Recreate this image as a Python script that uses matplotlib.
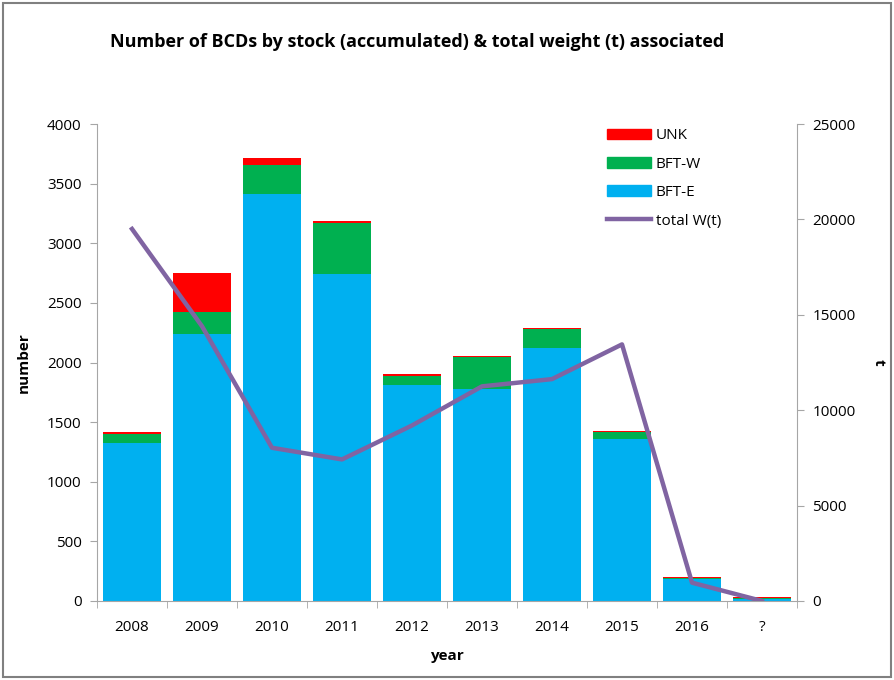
import matplotlib.pyplot as plt
from matplotlib.patches import Patch
from matplotlib.lines import Line2D
import numpy as np

plt.rcParams['font.family'] = ['Open Sans', 'DejaVu Sans']

years = ['2008', '2009', '2010', '2011', '2012', '2013', '2014', '2015', '2016', '?']
bft_e = [1325, 2240, 3417, 2741, 1810, 1781, 2125, 1357, 187, 15]
bft_w = [75, 180, 243, 433, 80, 264, 155, 61, 3, 13]
unk = [18, 330, 57, 14, 12, 11, 10, 11, 11, 8]
total_w = [19500, 14400, 8030, 7420, 9200, 11250, 11630, 13450, 960, 0]

c_e = '#00B0F0'
c_w = '#00B050'
c_u = '#FF0000'
c_line = '#8064A2'
grey = '#A6A6A6'

fig = plt.figure(figsize=(8.94, 6.8), dpi=100)
ax = fig.add_axes([0.1085, 0.1162, 0.783, 0.7014])

x = np.arange(len(years))
e = np.array(bft_e)
w = np.array(bft_w)
ax.bar(x, e, width=0.82, color=c_e, zorder=2)
ax.bar(x, w, width=0.82, bottom=e, color=c_w, zorder=2)
ax.bar(x, unk, width=0.82, bottom=e + w, color=c_u, zorder=2)

ax.set_xlim(-0.5, len(years) - 0.5)
ax.set_ylim(0, 4000)
ax.set_yticks(range(0, 4001, 500))
ax.set_xticks(x)
ax.set_xticklabels(years)
ax.set_xticks(np.arange(-0.5, len(years), 1), minor=True)
ax.tick_params(axis='x', which='major', length=0, pad=14, labelsize=11)
ax.tick_params(axis='x', which='minor', length=5, color=grey)
ax.tick_params(axis='y', length=5, color=grey, labelsize=11, pad=6)
for s in ['left', 'bottom']:
    ax.spines[s].set_color(grey)
ax.spines['top'].set_visible(False)
ax.spines['right'].set_visible(False)
ax.set_ylabel('number', fontweight='bold', fontsize=11, labelpad=12)
ax.set_xlabel('year', fontweight='bold', fontsize=11, labelpad=10)

ax2 = ax.twinx()
ax2.plot(x, total_w, color=c_line, linewidth=3.2, zorder=3)
ax2.set_ylim(0, 25000)
ax2.set_yticks(range(0, 25001, 5000))
ax2.tick_params(axis='y', length=5, color=grey, labelsize=11, pad=6)
ax2.spines['right'].set_color(grey)
ax2.spines['left'].set_visible(False)
ax2.spines['top'].set_visible(False)
ax2.spines['bottom'].set_visible(False)
ax2.set_ylabel('t', fontweight='bold', fontsize=11, rotation=270, labelpad=22)

handles = [Patch(color=c_u, label='UNK'), Patch(color=c_w, label='BFT-W'),
           Patch(color=c_e, label='BFT-E'), Line2D([], [], color=c_line, lw=3.2, label='total W(t)')]
ax2.legend(handles=handles, loc='upper left', bbox_to_anchor=(0.709, 1.02),
           frameon=False, fontsize=11, handlelength=2.9, handleheight=0.7,
           labelspacing=0.88, handletextpad=0.3)

fig.text(0.467, 0.938, 'Number of BCDs by stock (accumulated) & total weight (t) associated',
         ha='center', va='center', fontsize=13, fontweight='bold')

fig.patches.append(plt.Rectangle((0.003, 0.004), 0.994, 0.992, transform=fig.transFigure,
                                 fill=False, edgecolor='#808080', linewidth=1.5))

fig.savefig('out.png', dpi=100)
